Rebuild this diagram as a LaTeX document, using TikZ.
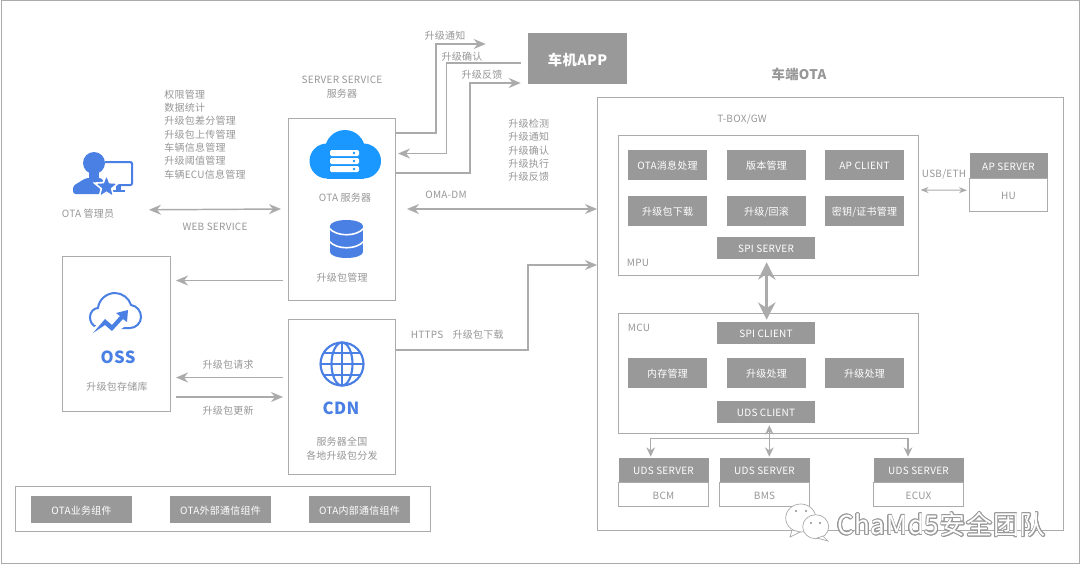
\documentclass[tikz,border=0pt]{standalone}
\usepackage{fontspec}
\usepackage{xcolor}
\usepackage[copies]{contour}
\setmainfont[LetterSpace=2.5]{Noto Sans CJK SC}
\usetikzlibrary{arrows.meta,positioning,calc,shapes.geometric}

\definecolor{framegray}{HTML}{ABABAB}
\definecolor{boxgray}{HTML}{999999}
\definecolor{textgray}{HTML}{979797}
\definecolor{iconblue}{HTML}{4A7FE3}
\definecolor{cloudblue}{HTML}{1A98FF}

\begin{document}
\begin{tikzpicture}[
    x=0.75pt, y=-0.75pt,
    lbl/.style={inner sep=0pt,yshift=-0.6pt,text=textgray,font=\fontsize{7.5}{10}\selectfont},
    frame/.style={draw=framegray,line width=0.75pt,fill=white,inner sep=0pt},
    gbox/.style={fill=boxgray,inner sep=0pt,text=white,text height=7pt,text depth=0pt,font=\fontsize{7.5}{10}\selectfont},
    funcbox/.style={gbox,minimum width=79*0.75pt,minimum height=30*0.75pt},
    widebox/.style={gbox,minimum width=98*0.75pt,minimum height=22*0.75pt},
    legendbox/.style={gbox,minimum width=101*0.75pt,minimum height=27*0.75pt},
    udshead/.style={gbox,minimum width=90*0.75pt,minimum height=24.5*0.75pt},
    udsbody/.style={frame,text=textgray,text height=7pt,text depth=0pt,font=\fontsize{7.5}{10}\selectfont,
                    minimum width=90*0.75pt,minimum height=24*0.75pt},
    flow/.style={draw=framegray,line width=1.1pt,-{Stealth[length=9pt,width=7.5pt]}},
    flowboth/.style={flow,{Stealth[length=9pt,width=7.5pt]}-{Stealth[length=9pt,width=7.5pt]}},
    spilink/.style={draw=framegray,line width=2pt,{Stealth[length=13pt,width=13pt]}-{Stealth[length=13pt,width=13pt]}},
    buslink/.style={draw=framegray,line width=1pt,-{Stealth[length=7pt,width=6.5pt]}},
    usblink/.style={draw=framegray,line width=0.8pt,{Stealth[length=6pt,width=4.5pt]}-{Stealth[length=6pt,width=4.5pt]}},
  ]
  \useasboundingbox (0,0) rectangle (1080,572);

  % --- outer frame ---
  \node[frame,minimum width=1078*0.75pt,minimum height=563*0.75pt] (page) at (540.5,282) {};

  % --- server side ---
  \node[frame,minimum width=107*0.75pt,minimum height=182*0.75pt] (server) at (342,209.5) {};
  \node[frame,minimum width=108*0.75pt,minimum height=155*0.75pt] (oss) at (116.5,334) {};
  \node[frame,minimum width=107*0.75pt,minimum height=155*0.75pt] (cdn) at (342,397) {};
  \node[gbox,minimum width=99*0.75pt,minimum height=51*0.75pt,text height=10pt,font=\fontsize{10.75}{13}\selectfont\bfseries] (app) at (577.5,58.5) {车机APP};

  \node[lbl,align=center] (servicelbl) at (342,86.5) {SERVER SERVICE\\服务器};
  \node[lbl,align=left,anchor=west] (mgmtlist) at (164,133.7) {权限管理\\数据统计\\升级包差分管理\\升级包上传管理\\车辆信息管理\\升级阈值管理\\车辆ECU信息管理};
  \node[lbl,align=left,anchor=west] (otalist) at (508,149.7) {升级检测\\升级通知\\升级确认\\升级执行\\升级反馈};
  \node[lbl] (admin) at (88,213) {OTA 管理员};
  \node[lbl] (otaserver) at (345,197) {OTA 服务器};
  \node[lbl] (pkgmgmt) at (342,277) {升级包管理};
  \node[lbl] (websvc) at (215,226) {WEB SERVICE};
  \node[lbl] (omadm) at (446,194) {OMA-DM};
  \node[lbl] (notify) at (445,35) {升级通知};
  \node[lbl] (confirm) at (462,56) {升级确认};
  \node[lbl] (feedback) at (482,74) {升级反馈};
  \node[lbl] (https) at (427,334) {HTTPS};
  \node[lbl] (download) at (478,334) {升级包下载};
  \node[lbl] (pkgreq) at (228,364) {升级包请求};
  \node[lbl] (pkgupd) at (228,410) {升级包更新};
  \node[lbl] (ossstore) at (117,386) {升级包存储库};
  \node[lbl,align=center] (cdnlbl) at (342,448) {服务器全国\\各地升级包分发};
  \node[lbl,text=iconblue,font=\fontsize{12.5}{14}\selectfont\bfseries] (osstxt) at (118,356) {OSS};
  \node[lbl,text=iconblue,font=\fontsize{12.5}{14}\selectfont\bfseries] (cdntxt) at (341,407) {CDN};

  % --- admin icon ---
  \draw[iconblue,line width=1.5pt,rounded corners=1pt] (105,162) -- (132,162) -- (132,185) -- (112,185);
  \fill[iconblue] (116,185) rectangle (121,191);
  \fill[iconblue] (112,190) rectangle (125,192);
  \fill[iconblue] (94,163) ellipse [x radius=11,y radius=11];
  \fill[iconblue] (89,170) rectangle (99,180);
  \fill[iconblue,rounded corners=2pt] (73,194) -- (73,186) -- (86,178) -- (102,178) -- (108,194) -- cycle;
  \node[star,star points=5,star point ratio=2.3,fill=iconblue,draw=white,line width=1.2pt,
        minimum size=25*0.75pt,inner sep=0pt] (adminstar) at (106.5,187) {};

  % --- server cloud icon ---
  \fill[cloudblue] (327,161) circle [radius=17.5];
  \fill[cloudblue] (363.5,161) circle [radius=17.5];
  \fill[cloudblue] (345,150) circle [radius=20];
  \fill[cloudblue] (327,150) rectangle (364,178.5);
  \foreach \bar in {150,158,166} {
    \fill[white,rounded corners=1pt] (330,\bar) rectangle (359,\bar+6);
    \fill[cloudblue] (354,\bar+3) circle [radius=1.3];
  }

  % --- database icon ---
  \fill[iconblue] (346.5,226) ellipse [x radius=16.5,y radius=6];
  \fill[iconblue] (330,226) rectangle (363,252);
  \fill[iconblue] (346.5,252) ellipse [x radius=16.5,y radius=6];
  \foreach \ring in {228,241} {
    \draw[white,line width=1.2pt] (329,\ring) .. controls (336,\ring+9) and (357,\ring+9) .. (364,\ring);
  }

  % --- oss icon ---
  \draw[iconblue,line width=1.5pt] (97,327) .. controls (92,326) and (90,321) .. (90,317)
    .. controls (90,312) and (94,308) .. (98,308) .. controls (99,299) and (107,293) .. (115,293)
    .. controls (122,293) and (129,298) .. (131,305) .. controls (137,306) and (141,311) .. (141,317)
    .. controls (141,323) and (136,328) .. (130,328) -- (118,328);
  \fill[white] (88,334) -- (105,316) -- (112,322) -- (119,313) -- (130,308) -- (130,323) -- (112,335) -- (104,328) -- cycle;
  \fill[iconblue] (93,333) -- (105,319) -- (112,325) -- (120,316) -- (116,313) -- (128,310)
    -- (127,322) -- (123,319) -- (112,331) -- (105,325) -- cycle;

  % --- cdn globe icon ---
  \begin{scope}[iconblue,line width=1.6pt]
    \draw (342,364) circle [radius=21.5];
    \draw (342,364) ellipse [x radius=10.5,y radius=21.5];
    \draw (342,342.5) -- (342,385.5);
    \draw (320.5,364) -- (363.5,364);
    \draw (323.5,353) -- (360.5,353);
    \draw (323.5,375) -- (360.5,375);
  \end{scope}

  % --- legend ---
  \node[frame,minimum width=415*0.75pt,minimum height=45*0.75pt] (legend) at (223,509) {};
  \node[legendbox] (legbiz) at (81.5,509.5) {OTA业务组件};
  \node[legendbox] (legext) at (220.5,509.5) {OTA外部通信组件};
  \node[legendbox] (legint) at (359.5,509.5) {OTA内部通信组件};

  % --- vehicle side ---
  \node[frame,minimum width=466*0.75pt,minimum height=433*0.75pt] (carota) at (830.5,314) {};
  \node[lbl,font=\fontsize{10}{12}\selectfont\bfseries] (carotatxt) at (799,74) {车端OTA};
  \node[lbl] (tbox) at (742,119) {T-BOX/GW};

  % --- mpu ---
  \node[frame,minimum width=300*0.75pt,minimum height=140*0.75pt] (mpu) at (768.5,205.5) {};
  \node[funcbox] (msgproc) at (667.5,164.5) {OTA消息处理};
  \node[funcbox] (version) at (766.5,164.5) {版本管理};
  \node[funcbox] (apclient) at (864.5,164.5) {AP CLIENT};
  \node[funcbox] (pkgdl) at (667.5,211) {升级包下载};
  \node[funcbox] (rollback) at (766.5,211) {升级/回滚};
  \node[funcbox] (keymgmt) at (864.5,211) {密钥/证书管理};
  \node[widebox] (spiserver) at (766,248) {SPI SERVER};
  \node[lbl] (mputxt) at (638,262) {MPU};

  % --- mcu ---
  \node[frame,minimum width=300*0.75pt,minimum height=120*0.75pt] (mcu) at (768.5,373.5) {};
  \node[widebox] (spiclient) at (766,333) {SPI CLIENT};
  \node[funcbox] (memmgmt) at (667.5,373) {内存管理};
  \node[funcbox] (updatea) at (766.5,373) {升级处理};
  \node[funcbox] (updateb) at (864.5,373) {升级处理};
  \node[widebox] (udsclient) at (766,412) {UDS CLIENT};
  \node[lbl] (mcutxt) at (639,327) {MCU};

  % --- ap server / uds servers ---
  \node[udsbody,minimum width=78*0.75pt,minimum height=33*0.75pt] (hu) at (1008.5,195) {HU};
  \node[udshead,minimum width=78*0.75pt,minimum height=25.5*0.75pt] (apserver) at (1008.5,165.7) {AP SERVER};
  \node[udshead] (bcmhead) at (663.5,470.2) {UDS SERVER};
  \node[udsbody] (bcm) at (663.5,494.5) {BCM};
  \node[udshead] (bmshead) at (764.5,470.2) {UDS SERVER};
  \node[udsbody] (bms) at (764.5,494.5) {BMS};
  \node[udshead] (ecuxhead) at (918.5,470.2) {UDS SERVER};
  \node[udsbody] (ecux) at (918.5,494.5) {ECUX};
  \node[lbl] (usbeth) at (944,174) {USB/ETH};

  % --- watermark ---
  \fill[white,draw=black!35,line width=0.5pt] (800.7,518) ellipse [x radius=15,y radius=14];
  \fill[white,draw=black!35,line width=0.5pt] (792,530) -- (790,537) -- (800,532) -- cycle;
  \fill[white,draw=black!35,line width=0.5pt] (815.7,526.7) ellipse [x radius=13,y radius=12];
  \fill[white,draw=black!35,line width=0.5pt] (823,536) -- (828,541) -- (817,538) -- cycle;
  \foreach \dotx/\doty in {796/511,806/511,811/523,820/523} {
    \fill[black!45] (\dotx,\doty) circle [radius=1.1];
  }
  \node[inner sep=0pt,text=white,anchor=west,font=\fontsize{19.5}{22}\selectfont] (mark) at (837,525) {\contour{black!40}{ChaMd5安全团队}};

  % --- connectors to the car app ---
  \draw[flow] ([shift={(0,-76.5)}]server.east) -- ++(40,0) |- ([shift={(-42,-14.5)}]app.west);
  \draw[flow] ([shift={(-7,4.5)}]app.west) -- ++(-74,0) |- ([shift={(2,-56)}]server.east);
  \draw[flow] ([shift={(0,-36.5)}]server.east) -- ++(74,0) |- ([shift={(-7,24.5)}]app.west);

  % --- service connectors ---
  \draw[flowboth] ([shift={(61,-4)}]admin.center) -- ([shift={(-7,-0.5)}]server.west);
  \draw[flowboth] ([shift={(11,-0.5)}]server.east) -- ([shift={(0,-105)}]carota.west);
  \draw[flow] ([shift={(-5,71)}]server.west) -- ([shift={(5,-53.5)}]oss.east);
  \draw[flow] ([shift={(-5,-19.5)}]cdn.west) -- ([shift={(5,43.5)}]oss.east);
  \draw[flow] ([shift={(5,63)}]oss.east) -- ([shift={(-5,0)}]cdn.west);
  \draw[flow] ([shift={(0,-47)}]cdn.east) -- ++(132,0) |- ([shift={(0,-49)}]carota.west);

  % --- inner links ---
  \draw[usblink] ([shift={(1.5,-15.5)}]mpu.east) -- ([shift={(-2,11.5)}]hu.west |- apserver.south);
  \draw[spilink] ([shift={(0.7,3)}]spiserver.south) -- ([shift={(0.7,-2)}]spiclient.north);
  \coordinate (busjoin) at ([shift={(3.3,15)}]udsclient.south);
  \draw[buslink,{Stealth[length=7pt,width=6.5pt]}-{Stealth[length=7pt,width=6.5pt]}] ([shift={(3.3,2)}]udsclient.south) -- ([shift={(4.8,-1)}]bmshead.north);
  \draw[buslink] (busjoin) -| ([shift={(-12.8,-1)}]bcmhead.north);
  \draw[buslink] (busjoin) -| ([shift={(-10.5,-1)}]ecuxhead.north);

\end{tikzpicture}
\end{document}
